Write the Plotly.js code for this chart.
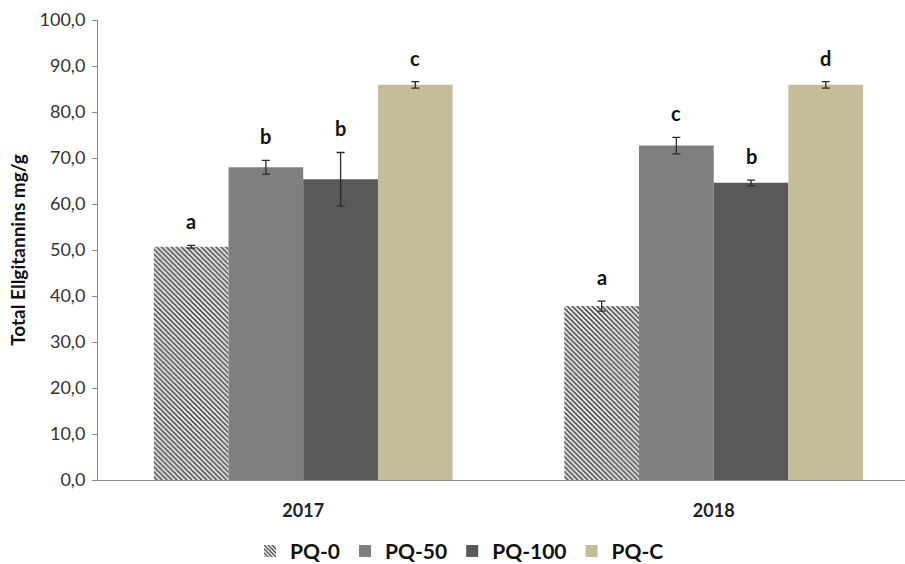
<!DOCTYPE html>
<html>
<head>
<meta charset="utf-8">
<script src="https://cdn.plot.ly/plotly-3.0.1.min.js"></script>
<style>html,body{margin:0;padding:0;background:#fff;}#chart{width:905px;height:564px;}</style>
</head>
<body>
<div id="chart"></div>
<script>
const years = ["2017", "2018"];
const seriesNames = ["PQ-0", "PQ-50", "PQ-100", "PQ-C"];
const pq0 = [50.7, 37.8];
const pq50 = [68.0, 72.7];
const pq100 = [65.4, 64.6];
const pqC = [85.9, 85.9];
const pq0Err = [0.3, 1.1];
const pq50Err = [1.5, 1.8];
const pq100Err = [5.8, 0.6];
const pqCErr = [0.7, 0.7];
const pq0Letters = ["a", "a"];
const pq50Letters = ["b", "c"];
const pq100Letters = ["b", "b"];
const pqCLetters = ["c", "d"];

const values = [pq0, pq50, pq100, pqC];
const errs = [pq0Err, pq50Err, pq100Err, pqCErr];
const letters = [pq0Letters, pq50Letters, pq100Letters, pqCLetters];
const colors = ["#ffffff", "#7f7f7f", "#595959", "#c4bd97"];
const patterns = [
  {shape: "\\", fgcolor: "#4a4a4a", bgcolor: "#f2f2f2", size: 3.5, solidity: 0.45},
  {shape: ""},
  {shape: ""},
  {shape: ""}
];
const FONT = "Lato, 'Open Sans', sans-serif";

const bargap = 0.272;
const barW = (1 - bargap) / 4;

const traces = seriesNames.map((name, i) => ({
  type: "bar",
  name: name,
  x: years,
  y: values[i],
  marker: {color: colors[i], pattern: patterns[i], line: {width: 0}},
  error_y: {type: "data", array: errs[i], visible: true, color: "#2b2b2b", thickness: 1.3, width: 4}
}));

const annotations = [];
seriesNames.forEach((name, i) => {
  years.forEach((yr, j) => {
    annotations.push({
      x: j + (i - 1.5) * barW,
      xref: "x",
      y: values[i][j] + errs[i][j],
      yref: "y",
      text: "<b>" + letters[i][j] + "</b>",
      showarrow: false,
      yanchor: "bottom",
      yshift: 10,
      font: {family: FONT, size: 20, color: "#111"}
    });
  });
});

const layout = {
  width: 905, height: 564,
  margin: {l: 98, r: 0, t: 20, b: 84, autoexpand: false},
  paper_bgcolor: "#fff", plot_bgcolor: "#fff",
  separators: ",.",
  barmode: "group",
  bargap: bargap,
  bargroupgap: 0,
  showlegend: true,
  legend: {
    orientation: "h", x: 0.448, xanchor: "center", y: -0.155, yanchor: "middle",
    font: {family: FONT, size: 21, color: "#111", weight: "bold"},
    itemwidth: 30, traceorder: "normal"
  },
  xaxis: {
    type: "category",
    range: [-0.5, 1.466],
    automargin: false,
    tickmode: "array",
    tickvals: years,
    ticktext: years.map(y => "<b>" + y + "</b>"),
    tickfont: {family: FONT, size: 18, color: "#222"},
    ticklabelstandoff: 14,
    showline: true, linecolor: "#888", linewidth: 1,
    ticks: "", showgrid: false, zeroline: false
  },
  yaxis: {
    range: [0, 100],
    automargin: false,
    dtick: 10,
    tickformat: ".1f",
    tickfont: {family: FONT, size: 18, color: "#333"},
    ticklabelstandoff: 3,
    showline: true, linecolor: "#888", linewidth: 1,
    ticks: "outside", ticklen: 5, tickcolor: "#888",
    showgrid: false, zeroline: false,
    title: {text: "<b>Total Ellgitannins mg/g</b>", standoff: 8,
      font: {family: FONT, size: 19, color: "#111"}}
  },
  annotations: annotations
};

Plotly.newPlot("chart", traces, layout, {displayModeBar: false, staticPlot: true});
</script>
</body>
</html>
